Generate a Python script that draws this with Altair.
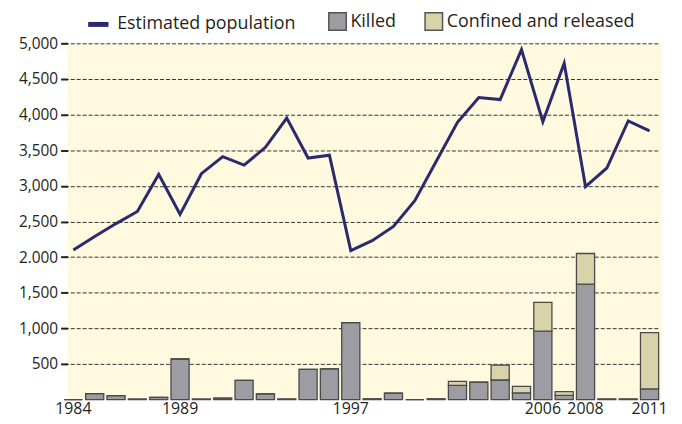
import altair as alt
import pandas as pd

years = list(range(1984, 2012))
population = [2100, 2290, 2470, 2640, 3160, 2600, 3170, 3410, 3290, 3540,
              3950, 3390, 3430, 2090, 2230, 2430, 2790, 3340, 3890, 4240,
              4210, 4910, 3900, 4720, 2990, 3250, 3910, 3770]
killed = [0, 85, 55, 8, 30, 570, 8, 20, 270, 80,
          8, 425, 430, 1080, 10, 90, 0, 10, 200, 245,
          275, 95, 960, 58, 1620, 8, 8, 150]
confined = [0, 0, 0, 0, 0, 0, 0, 0, 0, 0,
            0, 0, 0, 0, 0, 0, 0, 0, 55, 0,
            210, 90, 405, 55, 430, 0, 0, 790]
y_ticks = [500, 1000, 1500, 2000, 2500, 3000, 3500, 4000, 4500, 5000]
x_labels = [1984, 1989, 1997, 2006, 2008, 2011]
bar_types = ["Killed", "Confined and released"]
line_name = "Estimated population"

FONT = "Open Sans"
TXT = "#231f20"

rows = []
for y, k, c in zip(years, killed, confined):
    rows.append({"year": y, "type": bar_types[0], "value": k, "ord": 0})
    rows.append({"year": y, "type": bar_types[1], "value": c, "ord": 1})
bars_df = pd.DataFrame(rows)
line_df = pd.DataFrame({"year": years, "population": population, "series": line_name})

x_enc = alt.X(
    "year:O",
    scale=alt.Scale(range=[-3.3, 595.5], paddingInner=0.15, paddingOuter=0),
    axis=alt.Axis(values=x_labels, title=None, ticks=False, domain=False,
                  labelAngle=0, labelFontSize=16, labelColor=TXT, labelFont=FONT,
                  labelPadding=1, grid=False, labelOverlap=False),
)
y_scale = alt.Scale(domain=[0, 5000], nice=False)
y_axis = alt.Axis(values=y_ticks, title=None, domain=False,
                  tickSize=7, tickWidth=2, tickColor="#222",
                  labelFontSize=15.5, labelColor=TXT, labelFont=FONT,
                  labelPadding=3, labelOverlap=False, labelFlush=False,
                  labelExpr="datum.value == 2000 ? '2.000' : format(datum.value, ',')",
                  grid=True, gridDash=[4, 2], gridColor="#333", gridWidth=1)

bars = alt.Chart(bars_df).mark_bar(stroke="#4a4a4a", strokeWidth=1.3).encode(
    x=x_enc,
    y=alt.Y("value:Q", stack="zero", scale=y_scale, axis=y_axis),
    fill=alt.Fill("type:N",
                  scale=alt.Scale(domain=bar_types, range=["#9d9ca3", "#d7d4a9"]),
                  sort=bar_types,
                  legend=alt.Legend(orient="none", legendX=262, legendY=-32,
                                    direction="horizontal", columns=2, title=None,
                                    symbolType="square", symbolSize=310,
                                    symbolStrokeColor="#555", symbolStrokeWidth=1.5,
                                    symbolOpacity=1, labelLimit=300,
                                    labelFontSize=18, labelFont=FONT, labelColor=TXT,
                                    labelOffset=3, columnPadding=26)),
    order=alt.Order("ord:Q", sort="ascending"),
)

line = alt.Chart(line_df).mark_line(strokeWidth=3).encode(
    x=x_enc,
    y=alt.Y("population:Q", scale=y_scale, axis=y_axis),
    stroke=alt.Stroke("series:N",
                      scale=alt.Scale(domain=[line_name], range=["#2b2a6c"]),
                      legend=alt.Legend(orient="none", legendX=18, legendY=-32,
                                        title=None, symbolType="stroke",
                                        symbolStrokeWidth=5, symbolSize=420,
                                        labelLimit=300,
                                        labelFontSize=18, labelFont=FONT,
                                        labelColor=TXT, labelOffset=6)),
)

chart = alt.layer(bars, line).properties(
    width=599, height=359,
    autosize=alt.AutoSizeParams(type="none"),
    padding={"left": 60, "top": 34, "right": 12, "bottom": 20},
).configure_view(fill="#fef9df", stroke=None).configure_axis(labelOverlap=False)

chart.save("out.html", embed_options={"renderer": "svg", "actions": False})
